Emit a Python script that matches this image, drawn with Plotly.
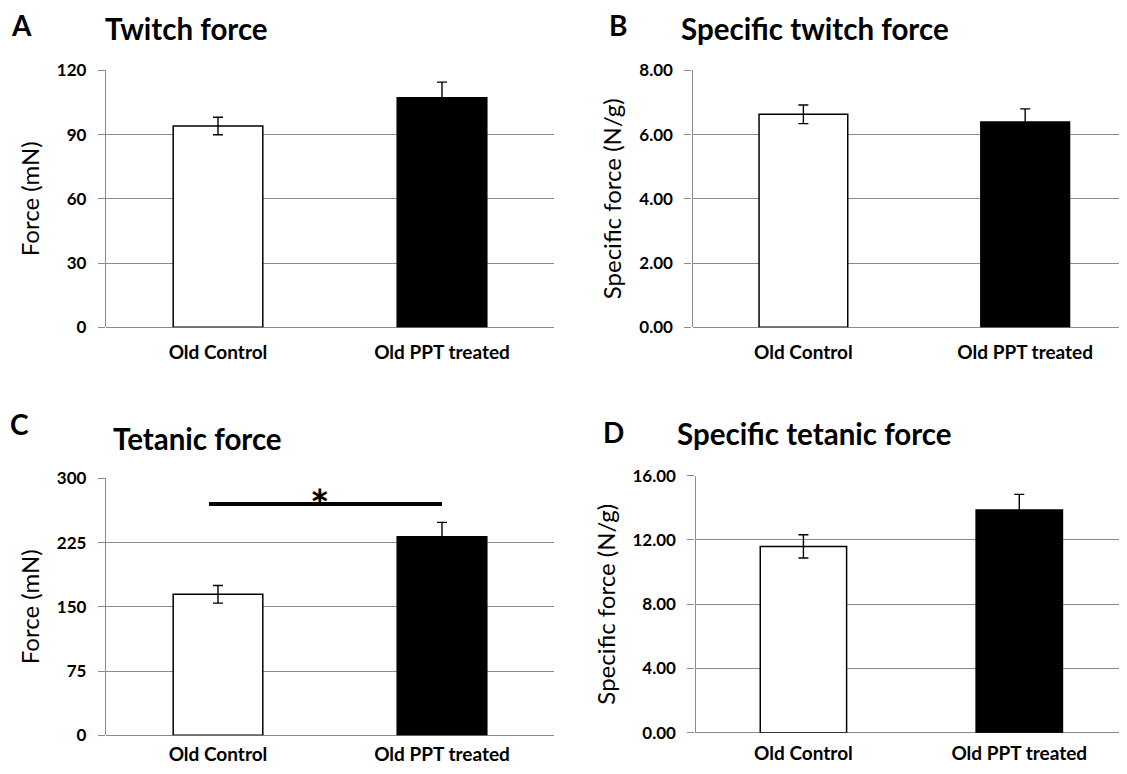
import plotly.graph_objects as go

categories = ["Old Control", "Old PPT treated"]

twitch_force = [94.0, 107.2]
twitch_err = [4.1, 7.3]

spec_twitch = [6.63, 6.39]
spec_twitch_err = [0.29, 0.41]

tetanic_force = [164.6, 231.8]
tetanic_err = [10.3, 16.8]

spec_tetanic = [11.6, 13.87]
spec_tetanic_err = [0.72, 0.97]

bar_colors = ["white", "black"]

FONT = "Lato"
GRID = "#8a8a8a"

# page body has an 8px margin; size the figure so it fits the 1127x774 window
OFF = 8
W, H = 1127 - 2 * OFF, 774 - 2 * OFF

def px_x(v):
    return (v - OFF) / W

def px_y(v):
    return 1 - (v - OFF) / H

panels = [
    dict(vals=twitch_force, err=twitch_err, xd=[106, 554], yd=[70.3, 327.3],
         yr=[0, 120], dt=30, fmt="d", ytitle="Force (mN)", xr=[-0.5, 1.5], so=12),
    dict(vals=spec_twitch, err=spec_twitch_err, xd=[692.5, 1119], yd=[70.3, 327.3],
         yr=[0, 8], dt=2, fmt=".2f", ytitle="Specific force (N/g)", xr=[-0.5, 1.423], so=12),
    dict(vals=tetanic_force, err=tetanic_err, xd=[106, 554], yd=[478.3, 735.3],
         yr=[0, 300], dt=75, fmt="d", ytitle="Force (mN)", xr=[-0.5, 1.5], so=6),
    dict(vals=spec_tetanic, err=spec_tetanic_err, xd=[695.5, 1119], yd=[475.7, 732.7],
         yr=[0, 16], dt=4, fmt=".2f", ytitle="Specific force (N/g)", xr=[-0.5, 1.462], so=7),
]

fig = go.Figure()
layout = {}
for i, p in enumerate(panels, start=1):
    sx = "" if i == 1 else str(i)
    fig.add_trace(go.Bar(
        x=categories, y=p["vals"], width=0.4,
        marker=dict(color=bar_colors, line=dict(color="black", width=1.5)),
        error_y=dict(type="data", array=p["err"], color="black", thickness=1.4, width=5),
        xaxis="x" + sx, yaxis="y" + sx, showlegend=False,
    ))
    layout["xaxis" + sx] = dict(
        domain=[px_x(p["xd"][0]), px_x(p["xd"][1])], anchor="y" + sx,
        range=p["xr"], showgrid=False, showline=False, zeroline=False,
        tickfont=dict(family=FONT, size=19, color="black", weight="bold"),
        ticks="", ticklabelstandoff=p["so"], automargin=False,
    )
    layout["yaxis" + sx] = dict(
        domain=[px_y(p["yd"][1]), px_y(p["yd"][0])], anchor="x" + sx,
        range=p["yr"], dtick=p["dt"], tickformat=p["fmt"],
        showgrid=True, gridcolor=GRID, gridwidth=1.3,
        showline=True, linecolor=GRID, linewidth=1.3,
        zeroline=True, zerolinecolor=GRID, zerolinewidth=1.3,
        ticks="outside", ticklen=7, tickcolor=GRID, tickwidth=1.3,
        tickfont=dict(family=FONT, size=17, color="black", weight="bold"),
        ticklabelstandoff=8, automargin=False,
        title=dict(text=p["ytitle"], font=dict(family=FONT, size=24, color="black"), standoff=10),
    )

fig.update_layout(**layout)

# significance bar in panel C
fig.add_shape(type="line", xref="x3", yref="y3", x0=-0.04, x1=1.0, y0=270, y1=270,
              line=dict(color="black", width=4))
fig.add_annotation(xref="x3", yref="y3", x=0.456, y=270, text="*", showarrow=False,
                   yanchor="middle", yshift=-2,
                   font=dict(family=FONT, size=46, color="black", weight="bold"))

titles = [
    ("A", 21, 25, "Twitch force", 103, 28),
    ("B", 618, 25, "Specific twitch force", 679, 28),
    ("C", 19, 424, "Tetanic force", 111, 438),
    ("D", 613, 432, "Specific tetanic force", 675, 433),
]
for letter, lx, ly, title, tx, ty in titles:
    fig.add_annotation(xref="paper", yref="paper", x=px_x(lx), y=px_y(ly), text=letter,
                       showarrow=False, xanchor="center", yanchor="middle",
                       font=dict(family=FONT, size=28, color="black", weight="bold"))
    fig.add_annotation(xref="paper", yref="paper", x=px_x(tx), y=px_y(ty), text=title,
                       showarrow=False, xanchor="left", yanchor="middle",
                       font=dict(family=FONT, size=29.5, color="black", weight="bold"))

fig.update_layout(
    width=W, height=H, margin=dict(l=0, r=0, t=0, b=0, pad=0, autoexpand=False),
    paper_bgcolor="white", plot_bgcolor="white",
)

fig.write_html("out.html")
